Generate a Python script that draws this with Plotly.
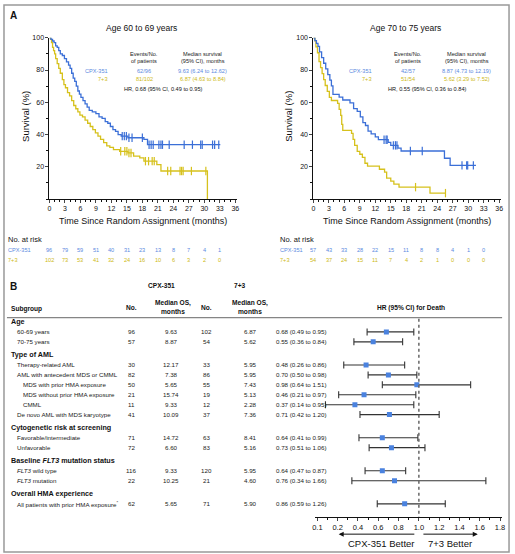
import plotly.graph_objects as go

W, H = 515, 554
def PX(x): return x / W
def PY(y): return 1 - y / H

BLUE = "#3b6fd7"
BLUE_T = "#5a89e0"
YEL = "#d6c11c"
YEL_T = "#cdb916"
FONT = "Liberation Sans"

# ---------------- Kaplan-Meier data ----------------
month_ticks = list(range(0, 37, 3))
risk_months = list(range(0, 34, 3))

# Age 60-69, CPX-351
a_cpx_t = [0, 0.3, 0.6, 0.9, 1.2, 1.5, 1.8, 2.1, 2.5, 2.9, 3.3, 3.7, 4.0, 4.3, 4.6, 4.9, 5.2, 5.5, 5.8, 6.1, 6.5,
           6.9, 7.3, 7.7, 8.3, 9.0, 9.6, 10.2, 10.8, 11.3, 11.8, 12.3, 12.8, 13.3, 13.9, 15.2, 18.3, 19.0, 33.1]
a_cpx_s = [100, 99, 98, 97, 95, 94, 92, 90, 89, 87, 85, 83, 81, 78, 75, 73, 70, 67, 65, 63, 61,
           59, 57, 55, 54, 53, 51, 50, 48, 47, 45, 43, 42, 40, 39, 38, 37, 33.7, 33.7]
a_cpx_cens = [14.1, 14.5, 14.9, 15.4, 16.0, 18.0, 19.3, 19.7, 20.1, 21.2, 21.6, 21.9, 23.2, 26.1, 27.7, 29.3, 29.6,
              31.6, 32.0, 32.8]
# Age 60-69, 7+3
a_73_t = [0, 0.2, 0.4, 0.6, 0.8, 1.0, 1.2, 1.5, 1.8, 2.1, 2.5, 2.8, 3.1, 3.5, 3.9, 4.3, 4.7, 5.1, 5.5, 5.9, 6.4,
          6.9, 7.4, 7.9, 8.4, 8.9, 9.4, 9.9, 10.5, 11.1, 11.7, 12.4, 13.6, 15.2, 16.3, 17.5, 18.3, 20.8, 21.6, 30.6, 30.6]
a_73_s = [100, 99, 97, 94, 92, 90, 87, 84, 81, 78, 74, 71, 69, 66, 64, 61, 58, 56, 54, 52, 51,
          49, 47, 45, 43, 41, 39, 37, 35, 33, 32, 30.6, 29.6, 28.6, 26.6, 25.5, 23.5, 21.4, 17.4, 17.4, 0]
a_73_cens = [13.8, 14.6, 15.0, 15.4, 15.8, 18.6, 19.2, 19.9, 20.3, 22.9, 23.5, 25.3, 25.6, 25.9, 27.5, 30.3]

# Age 70-75, CPX-351
b_cpx_t = [0, 0.3, 0.6, 0.9, 1.2, 1.6, 2.0, 2.4, 2.8, 3.2, 3.5, 3.8, 5.0, 5.7, 7.1, 7.8, 8.5, 9.1, 9.6, 10.1,
           10.6, 11.2, 12.0, 12.6, 14.5, 15.0, 16.4, 17.0, 25.4, 26.5, 31.5]
b_cpx_s = [100, 98.2, 96.5, 94.7, 91.2, 87.7, 84.2, 80.7, 77.2, 73.7, 70.2, 64.9, 63.2, 61.4, 59.6, 56.1, 54.4,
           50.9, 47.4, 45.6, 42.1, 40.4, 38.6, 36.8, 35.1, 33.3, 31.6, 29.8, 25.3, 20.9, 20.9]
b_cpx_cens = [13.7, 14.1, 14.3, 15.5, 15.9, 16.2, 18.8, 21.1, 28.8, 29.7, 29.9, 31.0]
# Age 70-75, 7+3
b_73_t = [0, 0.3, 0.5, 0.8, 1.1, 1.4, 1.7, 2.0, 2.3, 2.7, 3.1, 3.5, 4.7, 5.0, 5.3, 5.5, 5.7, 7.4, 7.7, 8.0, 8.5,
          9.0, 9.5, 10.0, 10.5, 12.8, 13.8, 14.2, 15.0, 15.6, 16.6, 22.6, 25.6]
b_73_s = [100, 98.1, 94.4, 90.7, 85.2, 81.5, 77.8, 74.1, 70.4, 66.7, 63.0, 61.1, 59.3, 55.6, 51.9, 46.3, 42.6,
          40.7, 37.0, 33.3, 29.6, 27.8, 25.9, 22.2, 20.4, 18.5, 16.7, 13.0, 11.1, 9.3, 7.4, 3.7, 3.7]
b_73_cens = [19.8, 25.6]

a_risk_cpx = [96, 79, 59, 51, 40, 31, 23, 13, 8, 7, 4, 1]
a_risk_73 = [102, 73, 53, 41, 32, 24, 16, 10, 6, 3, 2, 0]
b_risk_cpx = [57, 43, 33, 28, 22, 15, 11, 8, 8, 4, 1, 0]
b_risk_73 = [54, 37, 24, 15, 11, 7, 4, 2, 1, 0, 0, 0]

panels = [
    dict(title="Age 60 to 69 years", ev_cpx="62/96", ev_73="81/102",
         med_cpx="9.63 (6.24 to 12.62)", med_73="6.87 (4.63 to 8.84)",
         hr="HR, 0.68 (95% CI, 0.49 to 0.95)"),
    dict(title="Age 70 to 75 years", ev_cpx="42/57", ev_73="51/54",
         med_cpx="8.87 (4.73 to 12.19)", med_73="5.62 (3.29 to 7.52)",
         hr="HR, 0.55 (95% CI, 0.36 to 0.84)"),
]

# ---------------- Forest data ----------------
subgroup_labels = ["Age", "60-69 years", "70-75 years", "Type of AML", "Therapy-related AML",
                   "AML with antecedent MDS or CMML", "MDS with prior HMA exposure",
                   "MDS without prior HMA exposure", "CMML", "De novo AML with MDS karyotype",
                   "Cytogenetic risk at screening", "Favorable/intermediate", "Unfavorable",
                   "Baseline <i>FLT3</i> mutation status", "<i>FLT3</i> wild type", "<i>FLT3</i> mutation",
                   "Overall HMA experience", "All patients with prior HMA exposure<sup>*</sup>"]
subgroup_level = [0, 1, 1, 0, 1, 1, 2, 2, 2, 1, 0, 1, 1, 0, 1, 1, 0, 1]
cpx_n = [96, 57, 30, 82, 50, 21, 11, 41, 71, 72, 116, 22, 62]
cpx_med = ["9.63", "8.87", "12.17", "7.38", "5.65", "15.74", "9.33", "10.09", "14.72", "6.60", "9.33", "10.25", "5.65"]
std_n = [102, 54, 33, 86, 55, 19, 12, 37, 63, 83, 120, 21, 71]
std_med = ["6.87", "5.62", "5.95", "5.95", "7.43", "5.13", "2.28", "7.36", "8.41", "5.16", "5.95", "4.60", "5.90"]
hr = [0.68, 0.55, 0.48, 0.70, 0.98, 0.46, 0.37, 0.71, 0.64, 0.73, 0.64, 0.76, 0.86]
hr_lo = [0.49, 0.36, 0.26, 0.50, 0.64, 0.21, 0.14, 0.42, 0.41, 0.51, 0.47, 0.34, 0.59]
hr_hi = [0.95, 0.84, 0.86, 0.98, 1.51, 0.97, 0.95, 1.20, 0.99, 1.06, 0.87, 1.66, 1.26]
hr_ticks = [0.1, 0.2, 0.4, 0.6, 0.8, 1.0, 1.2, 1.4, 1.6, 1.8]


def hr_pos(v):
    # broken axis: the 0.1-0.2 interval takes a full 0.2-wide step
    return v if v >= 0.2 else 0.2 - (0.2 - v) * 2


def surv_at(ts, ss, t):
    s = ss[0]
    for ti, si in zip(ts, ss):
        if ti <= t:
            s = si
    return s


fig = go.Figure()
ann = []
shapes = []

km = [
    ((a_cpx_t, a_cpx_s, a_cpx_cens), (a_73_t, a_73_s, a_73_cens), a_risk_cpx, a_risk_73, 47, 237),
    ((b_cpx_t, b_cpx_s, b_cpx_cens), (b_73_t, b_73_s, b_73_cens), b_risk_cpx, b_risk_73, 314, 504),
]
for i, (cpx, std, rc, r7, x0, x1) in enumerate(km):
    xa = "x" if i == 0 else "x2"
    ya = "y" if i == 0 else "y2"
    for (ts, ss, cens), col in ((std, YEL), (cpx, BLUE)):
        fig.add_trace(go.Scatter(x=ts, y=ss, mode="lines", line=dict(color=col, width=1.3, shape="hv"),
                                 xaxis=xa, yaxis=ya, showlegend=False, hoverinfo="skip", cliponaxis=False))
        fig.add_trace(go.Scatter(x=cens, y=[surv_at(ts, ss, c) for c in cens], mode="markers",
                                 marker=dict(symbol="line-ns-open", size=6, color=col, line=dict(color=col, width=1.2)),
                                 xaxis=xa, yaxis=ya, showlegend=False, hoverinfo="skip", cliponaxis=False))
    p = panels[i]
    cx = (x0 + x1) / 2 - 2
    small = dict(family=FONT, size=5.6)
    ann += [
        dict(text=p["title"], x=PX(cx), y=PY(24), font=dict(family=FONT, size=8.5, color="#111")),
        dict(text="Events/No.", x=PX(x0 + 96), y=PY(50), font=dict(small, color="#222")),
        dict(text="of patients", x=PX(x0 + 96), y=PY(57), font=dict(small, color="#222")),
        dict(text="Median survival", x=PX(x0 + 155), y=PY(50), font=dict(small, color="#222")),
        dict(text="(95% CI), months", x=PX(x0 + 155), y=PY(57), font=dict(small, color="#222")),
        dict(text="CPX-351", x=PX(x0 + 61), y=PY(67), xanchor="right", font=dict(small, color=BLUE_T)),
        dict(text=p["ev_cpx"], x=PX(x0 + 96), y=PY(67), font=dict(small, color=BLUE_T)),
        dict(text=p["med_cpx"], x=PX(x0 + 155), y=PY(67), font=dict(small, color=BLUE_T)),
        dict(text="7+3", x=PX(x0 + 61), y=PY(76), xanchor="right", font=dict(small, color=YEL_T)),
        dict(text=p["ev_73"], x=PX(x0 + 96), y=PY(76), font=dict(small, color=YEL_T)),
        dict(text=p["med_73"], x=PX(x0 + 155), y=PY(76), font=dict(small, color=YEL_T)),
        dict(text=p["hr"], x=PX(x0 + 115), y=PY(86), font=dict(small, color="#111")),
        dict(text="Survival (%)", x=PX(x0 - 25), y=PY(113), textangle=-90, font=dict(family=FONT, size=9.5, color="#111")),
        dict(text="Time Since Random Assignment (months)", x=PX(cx + 2), y=PY(219),
             font=dict(family=FONT, size=9, color="#111")),
    ]
    lx = 3 if i == 0 else 278
    ann += [
        dict(text="No. at risk", x=PX(lx), y=PY(237), xanchor="left", font=dict(family=FONT, size=7.5, color="#111")),
        dict(text="CPX-351", x=PX(lx), y=PY(248), xanchor="left", font=dict(family=FONT, size=5.6, color=BLUE_T)),
        dict(text="7+3", x=PX(lx), y=PY(258), xanchor="left", font=dict(family=FONT, size=5.6, color=YEL_T)),
    ]
    for m, a, b in zip(risk_months, rc, r7):
        ann.append(dict(text=str(a), x=m, xref=xa, y=PY(248), font=dict(family=FONT, size=5.6, color=BLUE_T)))
        ann.append(dict(text=str(b), x=m, xref=xa, y=PY(258), font=dict(family=FONT, size=5.6, color=YEL_T)))

ann += [
    dict(text="<b>A</b>", x=PX(5), y=PY(12), xanchor="left", font=dict(family=FONT, size=10, color="#111")),
    dict(text="<b>B</b>", x=PX(5), y=PY(285), xanchor="left", font=dict(family=FONT, size=10, color="#111")),
]

# ---------------- Forest / table ----------------
row_y = []
y = 320
for k, lev in enumerate(subgroup_level):
    if k > 0:
        if lev == 0:
            y += 13
        elif subgroup_level[k - 1] == 0:
            y += 10.3
        else:
            y += 10
    row_y.append(y)

data_rows = [k for k, lev in enumerate(subgroup_level) if lev > 0]
col_no1, col_med1, col_no2, col_med2, col_hr = 130, 170, 206, 250, 274
tfont = dict(family=FONT, size=6.2, color="#222")
bfont = dict(family=FONT, size=7.2, color="#111")
for k, (lab, lev) in enumerate(zip(subgroup_labels, subgroup_level)):
    if lev == 0:
        ann.append(dict(text="<b>" + lab + "</b>", x=PX(6), y=row_y[k], yref="y3", xanchor="left", font=bfont))
    else:
        ann.append(dict(text=lab, x=PX(6 + 6 * lev), y=row_y[k], yref="y3", xanchor="left", font=tfont))
for j, k in enumerate(data_rows):
    yy = row_y[k]
    ann += [
        dict(text=str(cpx_n[j]), x=PX(col_no1), y=yy, yref="y3", font=tfont),
        dict(text=cpx_med[j], x=PX(col_med1), y=yy, yref="y3", font=tfont),
        dict(text=str(std_n[j]), x=PX(col_no2), y=yy, yref="y3", font=tfont),
        dict(text=std_med[j], x=PX(col_med2), y=yy, yref="y3", font=tfont),
        dict(text=f"{hr[j]:.2f} ({hr_lo[j]:.2f} to {hr_hi[j]:.2f})", x=PX(col_hr), y=yy, yref="y3",
             xanchor="left", font=tfont),
    ]
    fig.add_trace(go.Scatter(x=[hr_pos(hr_lo[j]), hr_pos(hr_hi[j])], y=[yy, yy], mode="lines",
                             line=dict(color="#333", width=1.1), xaxis="x3", yaxis="y3",
                             showlegend=False, hoverinfo="skip"))
    fig.add_trace(go.Scatter(x=[hr_pos(hr_lo[j]), hr_pos(hr_hi[j])], y=[yy, yy], mode="markers",
                             marker=dict(symbol="line-ns-open", size=5, color="#333", line=dict(color="#333", width=1.1)),
                             xaxis="x3", yaxis="y3", showlegend=False, hoverinfo="skip"))
fig.add_trace(go.Scatter(x=[hr_pos(v) for v in hr], y=[row_y[k] for k in data_rows], mode="markers",
                         marker=dict(symbol="square", size=5, color="#4a82df"),
                         xaxis="x3", yaxis="y3", showlegend=False, hoverinfo="skip"))

hfont = dict(family=FONT, size=6.6, color="#111")
ann += [
    dict(text="<b>CPX-351</b>", x=PX(160), y=PY(284), font=hfont),
    dict(text="<b>7+3</b>", x=PX(240), y=PY(284), font=hfont),
    dict(text="<b>Subgroup</b>", x=PX(6), y=PY(307), xanchor="left", font=hfont),
    dict(text="<b>No.</b>", x=PX(col_no1), y=PY(306), font=hfont),
    dict(text="<b>Median OS,</b>", x=PX(col_med1 + 2), y=PY(301), font=hfont),
    dict(text="<b>months</b>", x=PX(col_med1 + 2), y=PY(310), font=hfont),
    dict(text="<b>No.</b>", x=PX(col_no2), y=PY(306), font=hfont),
    dict(text="<b>Median OS,</b>", x=PX(col_med2), y=PY(301), font=hfont),
    dict(text="<b>months</b>", x=PX(col_med2), y=PY(310), font=hfont),
    dict(text="<b>HR (95% CI) for Death</b>", x=PX(413), y=PY(306), font=hfont),
    dict(text="CPX-351 Better", x=PX(383), y=PY(543), font=dict(family=FONT, size=9.5, color="#111")),
    dict(text="7+3 Better", x=PX(452), y=PY(543), font=dict(family=FONT, size=9.5, color="#111")),
    dict(x=hr_pos(0.21), y=PY(534), ax=hr_pos(0.97), ay=0, xref="x3", axref="x3", yref="paper",
         ayref="pixel", text="", showarrow=True, arrowhead=2, arrowsize=1, arrowwidth=1, arrowcolor="#111"),
    dict(x=hr_pos(1.58), y=PY(534), ax=hr_pos(1.03), ay=0, xref="x3", axref="x3", yref="paper",
         ayref="pixel", text="", showarrow=True, arrowhead=2, arrowsize=1, arrowwidth=1, arrowcolor="#111"),
]
for a in ann:
    a.setdefault("xref", "paper")
    a.setdefault("yref", "paper")
    a.setdefault("showarrow", False)
    a.setdefault("xanchor", "center")
    a.setdefault("yanchor", "middle")

shapes += [
    dict(type="line", xref="paper", yref="paper", x0=PX(4), x1=PX(505), y0=PY(316), y1=PY(316),
         line=dict(color="#666", width=1)),
    dict(type="line", xref="x3", yref="y3", x0=1.0, x1=1.0, y0=317, y1=517,
         line=dict(color="#666", width=1.5, dash="dot")),
    dict(type="rect", xref="paper", yref="paper", x0=PX(1), x1=PX(512), y0=PY(552), y1=PY(1),
         line=dict(color="#999", width=1.5)),
]

km_x = dict(range=[0, 36.38], tickvals=month_ticks, ticks="outside", ticklen=3, tickwidth=1,
            showline=True, linecolor="#111", linewidth=1, showgrid=False, zeroline=False,
            tickfont=dict(family=FONT, size=7, color="#111"),
            minor=dict(dtick=1, ticks="outside", ticklen=2, tickcolor="#111"))
km_y = dict(range=[0, 100], tickvals=[20, 40, 60, 80, 100], ticks="outside", ticklen=3,
            showline=True, linecolor="#111", linewidth=1, showgrid=False, zeroline=False,
            tickfont=dict(family=FONT, size=7, color="#111"),
            minor=dict(dtick=10, ticks="outside", ticklen=2, tickcolor="#111"))

fig.update_layout(
    width=W, height=H, margin=dict(l=0, r=0, t=0, b=0),
    paper_bgcolor="white", plot_bgcolor="white",
    xaxis=dict(km_x, domain=[PX(47), PX(237)], anchor="y"),
    yaxis=dict(km_y, domain=[PY(196.5), PY(34)], anchor="x"),
    xaxis2=dict(km_x, domain=[PX(314), PX(504)], anchor="y2"),
    yaxis2=dict(km_y, domain=[PY(196.5), PY(34)], anchor="x2"),
    xaxis3=dict(domain=[PX(316), PX(505)], anchor="y3", range=[-0.02, 1.82],
                tickvals=[hr_pos(v) for v in hr_ticks], ticktext=[f"{v:.1f}" for v in hr_ticks],
                ticks="outside", ticklen=3, showline=True, linecolor="#111", linewidth=1,
                showgrid=False, zeroline=False, tickfont=dict(family=FONT, size=7.5, color="#111"),
                minor=dict(dtick=0.1, ticks="outside", ticklen=2, tickcolor="#111")),
    yaxis3=dict(domain=[PY(517), PY(314)], anchor="x3", range=[517, 314], visible=False),
    annotations=ann, shapes=shapes,
)
fig.write_html("out.html", config={"displayModeBar": False},
               post_script="document.body.style.margin='0';document.body.style.overflow='hidden';")
